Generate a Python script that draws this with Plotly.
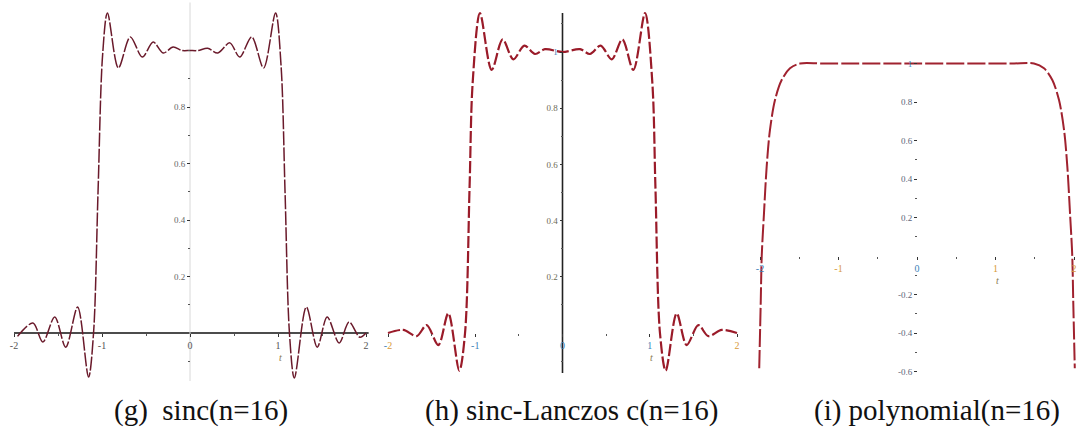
import plotly.graph_objects as go

# ---- curve samples (t, response) for each filter kernel ----
sinc_t = [-1.96, -1.785, -1.672, -1.537, -1.412, -1.277, -1.153, -1.096, -1.045, -0.994,
          -0.938, -0.814, -0.678, -0.542, -0.418, -0.305, -0.192, -0.09, 0.0, 0.09,
          0.2, 0.316, 0.452, 0.565, 0.701, 0.836, 0.972, 1.036, 1.08, 1.13,
          1.186, 1.322, 1.446, 1.559, 1.695, 1.808, 1.93, 2.0]
sinc_v = [-0.012, 0.035, -0.032, 0.057, -0.050, 0.092, -0.156, 0.0, 0.5, 0.98,
          1.133, 0.938, 1.048, 0.977, 1.030, 0.991, 1.012, 1.0, 1.0, 1.0,
          1.008, 0.991, 1.027, 0.977, 1.048, 0.938, 1.133, 0.94, 0.5, 0.0,
          -0.159, 0.092, -0.050, 0.057, -0.035, 0.039, -0.015, 0.0]

lanczos_t = [-2.0, -1.825, -1.671, -1.557, -1.423, -1.309, -1.183, -1.117, -1.065, -1.03,
             -0.946, -0.812, -0.686, -0.564, -0.437, -0.315, -0.201, 0.0, 0.201, 0.315,
             0.437, 0.564, 0.686, 0.812, 0.946, 1.03, 1.065, 1.117, 1.183, 1.309,
             1.423, 1.557, 1.671, 1.825, 2.0]
lanczos_v = [0.0, 0.011, -0.011, 0.028, -0.043, 0.070, -0.134, 0.0, 0.52, 0.889,
             1.138, 0.936, 1.045, 0.974, 1.023, 0.993, 1.010, 1.0, 1.010, 0.993,
             1.023, 0.974, 1.045, 0.936, 1.138, 0.889, 0.52, 0.0, -0.134, 0.070,
             -0.043, 0.028, -0.011, 0.011, 0.0]

poly_t = [-2.01, -1.99, -1.978, -1.949, -1.915, -1.873, -1.809, -1.724, -1.618, -1.49,
          -1.2, 0.0, 1.2, 1.49, 1.618, 1.724, 1.809, 1.873, 1.915, 1.949,
          1.978, 1.99, 2.01]
poly_v = [-0.583, -0.229, 0.0, 0.223, 0.464, 0.655, 0.81, 0.914, 0.975, 1.0,
          1.0, 1.0, 1.0, 1.0, 0.975, 0.914, 0.81, 0.655, 0.464, 0.223,
          0.0, -0.229, -0.583]

# ---- tick labels ----
x_ticks = [-2, -1, 0, 1, 2]
x_minor = [-1.5, -0.5, 0.5, 1.5]
sinc_yticks = [0.2, 0.4, 0.6, 0.8]
lanczos_yticks = [0.2, 0.4, 0.6, 0.8, 1]
poly_yticks = [-0.6, -0.4, -0.2, 0.2, 0.4, 0.6, 0.8, 1]

captions = ["(g)  sinc(n=16)", "(h) sinc-Lanczos c(n=16)", "(i) polynomial(n=16)"]

BLUE = "#3b82b8"
ORANGE = "#d99a3a"


def colored(text, color):
    return f'<span style="color:{color}">{text}</span>'


W, H = 1082, 429
TOP, BOTTOM = 2, 390  # vertical pixel extent of every panel

# pixel frame of each panel: left, right, x=0 pixel, px per unit, y=0 pixel, px per unit
frames = [
    dict(left=2, right=380, x0=190, xu=88.0, y0=333, yu=282.5),
    dict(left=384, right=742, x0=562.5, xu=87.25, y0=333, yu=281.0),
    dict(left=748, right=1082, x0=917, xu=78.5, y0=256, yu=192.5),
]

series = [
    dict(t=sinc_t, v=sinc_v, color="#6a1a2b", width=1.5, dash="14px,2px",
         yticks=sinc_yticks, ytl=["0.2", "0.4", "0.6", "0.8"],
         yminor=[-0.1, 0.1, 0.3, 0.5, 0.7, 0.9, 1.0],
         xtl=["-2", "-1", "0", "1", "2"],
         xcol="#555555", ycol="#666666"),
    dict(t=lanczos_t, v=lanczos_v, color="#9a1b29", width=2.2, dash="12px,3px",
         yticks=lanczos_yticks, ytl=["0.2", "0.4", "0.6", "0.8", colored("1", BLUE)],
         yminor=[-0.1, 0.1, 0.3, 0.5, 0.7, 0.9, 1.1],
         xtl=["-" + colored("2", ORANGE), "-1", "0", "1", colored("2", ORANGE)],
         xcol=BLUE, ycol="#6d6a55"),
    dict(t=poly_t, v=poly_v, color="#a0222f", width=2.0, dash="18px,3px",
         yticks=poly_yticks,
         ytl=["-0.6", "-0.4", "-0.2", "0.2", "0.4", "0.6", "0.8", colored("1", BLUE)],
         yminor=[-0.5, -0.3, -0.1, 0.1, 0.3, 0.5],
         xtl=[colored("-2", BLUE), "-1", colored("0", BLUE), "1", "2"],
         xcol=ORANGE, ycol="#5a6478"),
]

fig = go.Figure()
layout = dict(width=W, height=H, margin=dict(l=0, r=0, t=0, b=0),
              paper_bgcolor="white", plot_bgcolor="white", showlegend=False)
shapes = []
annotations = []
tick_font = "Liberation Serif"

for i, (fr, s) in enumerate(zip(frames, series)):
    k = "" if i == 0 else str(i + 1)
    xr = [(fr["left"] - fr["x0"]) / fr["xu"], (fr["right"] - fr["x0"]) / fr["xu"]]
    yr = [(fr["y0"] - BOTTOM) / fr["yu"], (fr["y0"] - TOP) / fr["yu"]]
    fig.add_trace(go.Scatter(
        x=s["t"], y=s["v"], mode="lines", xaxis="x" + k, yaxis="y" + k,
        line=dict(color=s["color"], width=s["width"], dash=s["dash"],
                  shape="spline", smoothing=0.9),
        hoverinfo="skip"))
    layout["xaxis" + k] = dict(
        domain=[fr["left"] / W, fr["right"] / W], range=xr, anchor="free",
        position=1 - fr["y0"] / H, showgrid=False, zeroline=False, showline=False,
        automargin=False,
        tickvals=x_ticks, ticktext=s["xtl"], ticks="outside",
        ticklen=3, tickwidth=1, tickcolor="#333333",
        tickfont=dict(family=tick_font, size=10, color=s["xcol"]),
        minor=dict(tickvals=x_minor, ticks="outside", ticklen=2, tickcolor="#555555"),
        fixedrange=True)
    layout["yaxis" + k] = dict(
        domain=[1 - BOTTOM / H, 1 - TOP / H], range=yr, anchor="free",
        position=fr["x0"] / W, showgrid=False, zeroline=False, showline=False,
        automargin=False,
        tickvals=s["yticks"], ticktext=s["ytl"], ticks="outside",
        ticklen=3, tickwidth=1, tickcolor="#333333",
        tickfont=dict(family=tick_font, size=9, color=s["ycol"]),
        minor=dict(tickvals=s["yminor"], ticks="outside", ticklen=2, tickcolor="#555555"),
        fixedrange=True)
    # variable name under the t = 1 tick
    annotations.append(dict(x=1, y=0, xref="x" + k, yref="y" + k, text="<i>t</i>",
                            showarrow=False, yshift=-24, xshift=2,
                            font=dict(family=tick_font, size=10, color="#8a7a50")))
    # caption under the panel
    cx = [201, 571, 937][i]
    annotations.append(dict(x=cx / W, y=1 - 410 / H, xref="paper", yref="paper",
                            xanchor="center", yanchor="middle",
                            text=captions[i], showarrow=False,
                            font=dict(family="Liberation Serif", size=29, color="#111111")))

# axis lines drawn in data space
shapes.append(dict(type="line", xref="x", yref="y", x0=-2.0, x1=2.03, y0=0, y1=0,
                   line=dict(color="#111111", width=1.6), layer="below"))
shapes.append(dict(type="line", xref="x", yref="y", x0=0, x1=0, y0=-0.17, y1=1.17,
                   line=dict(color="#d8d8d8", width=1), layer="below"))
shapes.append(dict(type="line", xref="x2", yref="y2", x0=0, x1=0, y0=-0.142, y1=1.139,
                   line=dict(color="#222222", width=1.6), layer="below"))

layout["shapes"] = shapes
layout["annotations"] = annotations
fig.update_layout(**layout)
fig.write_html("out.html")
